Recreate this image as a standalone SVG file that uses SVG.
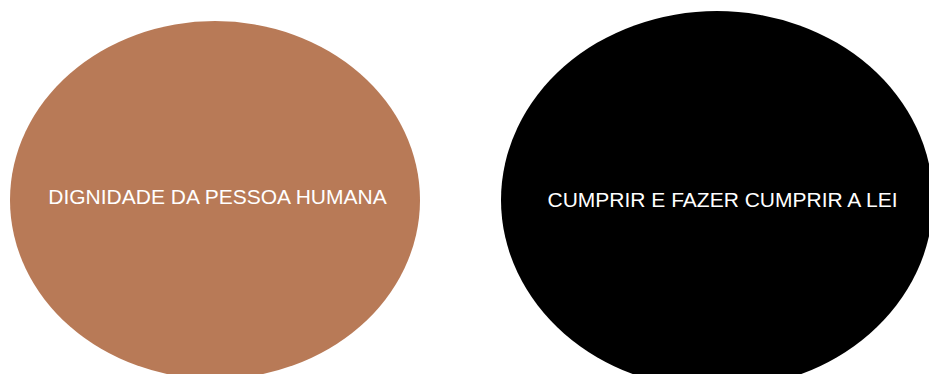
<svg xmlns="http://www.w3.org/2000/svg" width="929" height="374" viewBox="0 0 929 374">
<style>
text{font-family:"Liberation Sans",Arial,sans-serif;font-size:21px;fill:#ffffff;text-anchor:middle}
</style>
<rect width="929" height="374" fill="#ffffff"/>
<g id="node-dignidade">
<ellipse cx="215" cy="200" rx="205" ry="179" fill="#B87A57"/>
<text x="217.5" y="204">DIGNIDADE DA PESSOA HUMANA</text>
</g>
<g id="node-cumprir">
<ellipse cx="717" cy="200" rx="216" ry="189" fill="#000000"/>
<text x="722.5" y="207">CUMPRIR E FAZER CUMPRIR A LEI</text>
</g>
<g id="connectors"></g>
</svg>
